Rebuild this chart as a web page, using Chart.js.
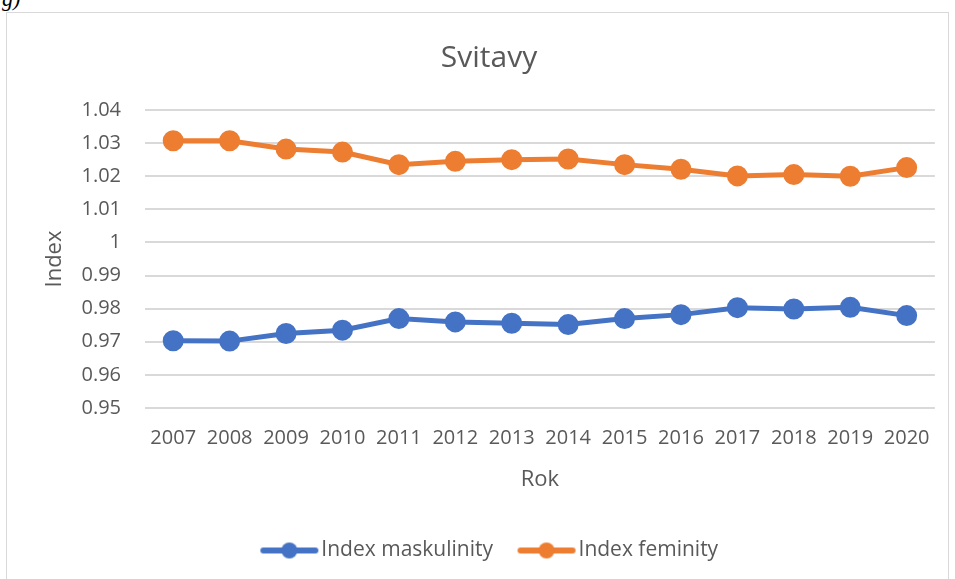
<!DOCTYPE html>
<html>
<head>
<meta charset="utf-8">
<script src="https://cdn.jsdelivr.net/npm/chart.js@4.4.1/dist/chart.umd.min.js"></script>
<style>
  body { margin: 0; background: #fff; width: 955px; height: 579px; overflow: hidden; position: relative; font-family: "Liberation Serif", serif; }
  #tag { position: absolute; left: 2px; top: -14px; font-size: 22px; font-style: italic; color: #000; }
  #frame { position: absolute; left: 6px; top: 12px; width: 943px; height: 580px; border: 1px solid #d9d9d9; box-sizing: border-box; }
  #wrap { position: absolute; left: 0; top: 0; width: 941px; height: 567px; }
</style>
</head>
<body>
<div id="tag">g)</div>
<div id="frame"><div id="wrap"><canvas id="myChart"></canvas></div></div>
<script>
const years = ['2007', '2008', '2009', '2010', '2011', '2012', '2013', '2014', '2015', '2016', '2017', '2018', '2019', '2020'];
const maskulinity = [0.9703, 0.9702, 0.9725, 0.9735, 0.9770, 0.9760, 0.9756, 0.9752, 0.9770, 0.9782, 0.9803, 0.9799, 0.9804, 0.9779];
const feminity = [1.0307, 1.0307, 1.0282, 1.0273, 1.0235, 1.0245, 1.0250, 1.0252, 1.0235, 1.0221, 1.0201, 1.0205, 1.0200, 1.0226];

const grey = '#595959';
const fontFam = '"Open Sans", "Noto Sans", sans-serif';

// legend marker: line with a dot, like Excel (drawn a bit off-centre so the text sits close)
function marker(color) {
  const c = document.createElement('canvas');
  c.width = 72; c.height = 18;
  const g = c.getContext('2d');
  g.strokeStyle = color; g.lineWidth = 6; g.lineCap = 'round';
  g.beginPath(); g.moveTo(14, 9); g.lineTo(66, 9); g.stroke();
  g.fillStyle = color;
  g.beginPath(); g.arc(40, 9, 8, 0, Math.PI * 2); g.fill();
  return c;
}

const ctx = document.getElementById('myChart');

new Chart(ctx, {
  type: 'line',
  data: {
    labels: years,
    datasets: [{
      label: 'Index maskulinity',
      data: maskulinity,
      borderColor: '#4472c4',
      backgroundColor: '#4472c4',
      borderWidth: 5,
      pointRadius: 8,
      pointHoverRadius: 8,
      pointStyle: 'circle',
      tension: 0
    }, {
      label: 'Index feminity',
      data: feminity,
      borderColor: '#ed7d31',
      backgroundColor: '#ed7d31',
      borderWidth: 5,
      pointRadius: 8,
      pointHoverRadius: 8,
      pointStyle: 'circle',
      tension: 0
    }]
  },
  options: {
    responsive: true,
    maintainAspectRatio: false,
    animation: false,
    layout: { padding: { left: 34, right: 11, top: 27, bottom: 9 } },
    plugins: {
      title: {
        display: true,
        text: 'Svitavy',
        color: grey,
        font: { family: fontFam, size: 30, weight: 'normal', lineHeight: 1.2 },
        padding: { top: 0, bottom: 34 }
      },
      legend: {
        position: 'bottom',
        labels: {
          color: grey,
          font: { family: fontFam, size: 21 },
          usePointStyle: true,
          pointStyleWidth: 51,
          padding: 24,
          generateLabels: (chart) => chart.data.datasets.map((d, i) => ({
            text: d.label,
            fontColor: grey,
            pointStyle: marker(d.borderColor),
            datasetIndex: i,
            lineWidth: 0,
            strokeStyle: 'transparent',
            fillStyle: 'transparent'
          }))
        }
      },
      tooltip: { enabled: false }
    },
    scales: {
      x: {
        offset: true,
        grid: { display: false, drawTicks: false },
        border: { display: false },
        ticks: { color: grey, font: { family: fontFam, size: 20 }, padding: 18, maxRotation: 0 },
        title: { display: true, text: 'Rok', color: grey, font: { family: fontFam, size: 22 }, padding: { top: 0, bottom: 23 } },
        afterFit: (s) => { s.height = 108; }
      },
      y: {
        min: 0.95,
        max: 1.04,
        ticks: {
          stepSize: 0.01,
          color: grey,
          font: { family: fontFam, size: 20 },
          padding: 24,
          callback: (v) => String(Number(v.toFixed(2)))
        },
        grid: { color: '#d9d9d9', lineWidth: 2, drawTicks: false },
        border: { display: false },
        title: { display: true, text: 'Index', color: grey, font: { family: fontFam, size: 22 }, padding: { top: 1, bottom: 0 } },
        afterFit: (s) => { s.width = 104; }
      }
    }
  }
});
</script>
</body>
</html>
